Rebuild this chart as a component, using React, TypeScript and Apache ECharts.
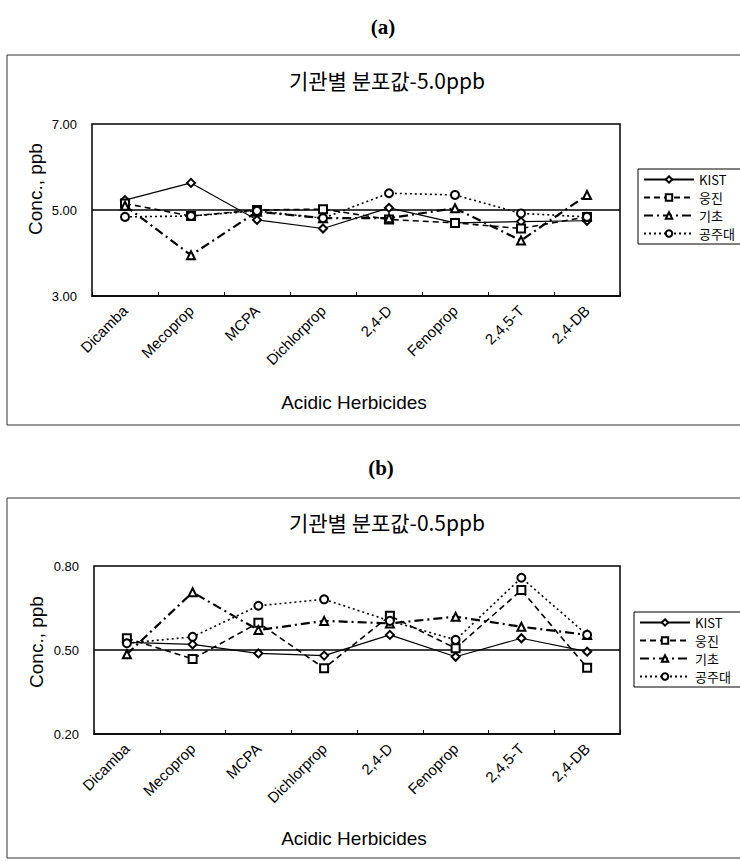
import React, { useEffect, useRef } from "react";
import * as echarts from "echarts";

const categories = ["Dicamba", "Mecoprop", "MCPA", "Dichlorprop", "2,4-D", "Fenoprop", "2,4,5-T", "2,4-DB"];
const seriesNames = ["KIST", "웅진", "기초", "공주대"];

// (a) 5.0 ppb
const kistA = [5.23, 5.63, 4.77, 4.57, 5.05, 4.7, 4.73, 4.75];
const woongjinA = [5.15, 4.86, 5.0, 5.02, 4.78, 4.7, 4.57, 4.84];
const gichoA = [5.1, 3.95, 4.96, 4.81, 4.81, 5.04, 4.29, 5.35];
const gongjuA = [4.84, 4.86, 4.98, 4.81, 5.39, 5.35, 4.92, 4.84];

// (b) 0.5 ppb
const kistB = [0.527, 0.52, 0.488, 0.48, 0.554, 0.476, 0.542, 0.494];
const woongjinB = [0.542, 0.468, 0.597, 0.435, 0.622, 0.506, 0.714, 0.437];
const gichoB = [0.485, 0.706, 0.571, 0.604, 0.595, 0.619, 0.583, 0.554];
const gongjuB = [0.524, 0.547, 0.658, 0.681, 0.604, 0.536, 0.758, 0.554];

const tickLabelsA = [3, 5, 7];
const tickLabelsB = [0.2, 0.5, 0.8];

const FONT = "Liberation Sans, Arial, sans-serif";
const KFONT = "Noto Sans CJK KR, sans-serif";

const styles = [
  { symbol: "emptyDiamond", type: "solid" as any, width: 1.2, size: 8 },
  { symbol: "emptyRect", type: [6, 4] as any, width: 1.6, size: 8 },
  { symbol: "emptyTriangle", type: [9, 4, 2, 4] as any, width: 2.2, size: 8 },
  { symbol: "emptyCircle", type: [2, 3] as any, width: 1.6, size: 8 },
];

function makeSeries(dataSets: number[][], axisIdx: number, refValue: number) {
  return dataSets.map((d, i) => {
    const s: any = {
      name: seriesNames[i],
      type: "line",
      xAxisIndex: axisIdx,
      yAxisIndex: axisIdx,
      data: d,
      symbol: styles[i].symbol,
      symbolSize: styles[i].size,
      color: "#000",
      itemStyle: { color: "#000", borderColor: "#000", borderWidth: 1.2 },
      lineStyle: { color: "#000", type: styles[i].type, width: styles[i].width },
      z: 3 + i,
    };
    if (i === 0) {
      s.markLine = {
        silent: true,
        symbol: "none",
        label: { show: false },
        lineStyle: { color: "#000", type: "solid", width: 1.6 },
        data: [{ yAxis: refValue }],
        z: 1,
      };
    }
    return s;
  });
}

const xAxisCommon = (gridIndex: number) => ({
  type: "category",
  gridIndex,
  data: categories,
  boundaryGap: true,
  axisLine: { show: true, lineStyle: { color: "#000", width: 1.5 } },
  axisTick: { show: true, inside: true, length: 4, lineStyle: { color: "#000" } },
  axisLabel: { rotate: 45, fontSize: 15, color: "#000", fontFamily: FONT, margin: 12 },
  splitLine: { show: false },
});

const legendCommon = (top: number, left: number) => ({
  orient: "vertical",
  left,
  top,
  itemWidth: 50,
  itemHeight: 8,
  itemGap: 5,
  padding: [4, 40, 4, 5],
  borderColor: "#000",
  borderWidth: 1,
  backgroundColor: "#fff",
  textStyle: { fontSize: 13, lineHeight: 13, color: "#000", fontFamily: KFONT },
  data: seriesNames,
});

export default function App() {
  const ref = useRef<HTMLDivElement>(null);
  useEffect(() => {
    if (!ref.current) return;
    const chart = echarts.init(ref.current, null, { renderer: "svg" });
    const seriesA = makeSeries([kistA, woongjinA, gichoA, gongjuA], 0, 5);
    const seriesB = makeSeries([kistB, woongjinB, gichoB, gongjuB], 1, 0.5);
    chart.setOption({
      animation: false,
      backgroundColor: "#fff",
      legend: [legendCommon(169, 638), legendCommon(612, 634)],
      grid: [
        { left: 92, top: 124, width: 528, height: 172, show: true, borderColor: "#000", borderWidth: 1.5, backgroundColor: "transparent" },
        { left: 94, top: 566, width: 526, height: 168, show: true, borderColor: "#000", borderWidth: 1.5, backgroundColor: "transparent" },
      ],
      xAxis: [xAxisCommon(0), xAxisCommon(1)],
      yAxis: [
        {
          type: "value",
          gridIndex: 0,
          min: 3,
          max: 7,
          interval: 1,
          axisLine: { show: false },
          axisTick: { show: false },
          splitLine: { show: false },
          axisLabel: {
            fontSize: 13,
            color: "#000",
            fontFamily: FONT,
            margin: 15,
            formatter: (v: number) => (tickLabelsA.some((t) => Math.abs(t - v) < 1e-6) ? v.toFixed(2) : ""),
          },
        },
        {
          type: "value",
          gridIndex: 1,
          min: 0.2,
          max: 0.8,
          interval: 0.1,
          axisLine: { show: false },
          axisTick: { show: false },
          splitLine: { show: false },
          axisLabel: {
            fontSize: 13,
            color: "#000",
            fontFamily: FONT,
            margin: 15,
            formatter: (v: number) => (tickLabelsB.some((t) => Math.abs(t - v) < 1e-6) ? v.toFixed(2) : ""),
          },
        },
      ],
      graphic: [
        { type: "rect", shape: { x: 7, y: 55, width: 780, height: 370 }, style: { fill: "none", stroke: "#333", lineWidth: 1 }, z: -1 },
        { type: "rect", shape: { x: 7, y: 498, width: 780, height: 360 }, style: { fill: "none", stroke: "#333", lineWidth: 1 }, z: -1 },
        { type: "text", x: 383, y: 27, style: { text: "(a)", font: "bold 21px Liberation Serif, serif", fill: "#000", align: "center", verticalAlign: "middle" } },
        { type: "text", x: 381, y: 468, style: { text: "(b)", font: "bold 21px Liberation Serif, serif", fill: "#000", align: "center", verticalAlign: "middle" } },
        { type: "text", x: 387, y: 80, style: { text: "기관별 분포값-5.0ppb", font: "21px Noto Sans CJK KR, sans-serif", fill: "#000", align: "center", verticalAlign: "middle" } },
        { type: "text", x: 387, y: 522, style: { text: "기관별 분포값-0.5ppb", font: "21px Noto Sans CJK KR, sans-serif", fill: "#000", align: "center", verticalAlign: "middle" } },
        { type: "text", x: 35, y: 189, rotation: Math.PI / 2, style: { text: "Conc., ppb", font: "19px Liberation Sans, Arial, sans-serif", fill: "#000", align: "center", verticalAlign: "middle" } },
        { type: "text", x: 36, y: 642, rotation: Math.PI / 2, style: { text: "Conc., ppb", font: "19px Liberation Sans, Arial, sans-serif", fill: "#000", align: "center", verticalAlign: "middle" } },
        { type: "text", x: 354, y: 402, style: { text: "Acidic Herbicides", font: "19px Liberation Sans, Arial, sans-serif", fill: "#000", align: "center", verticalAlign: "middle" } },
        { type: "text", x: 354, y: 838, style: { text: "Acidic Herbicides", font: "19px Liberation Sans, Arial, sans-serif", fill: "#000", align: "center", verticalAlign: "middle" } },
      ],
      series: [...seriesA, ...seriesB],
    });
    return () => chart.dispose();
  }, []);
  return (
    <div
      ref={ref}
      style={{ position: "absolute", left: 0, top: 0, width: 740, height: 861, background: "#fff" }}
    />
  );
}
